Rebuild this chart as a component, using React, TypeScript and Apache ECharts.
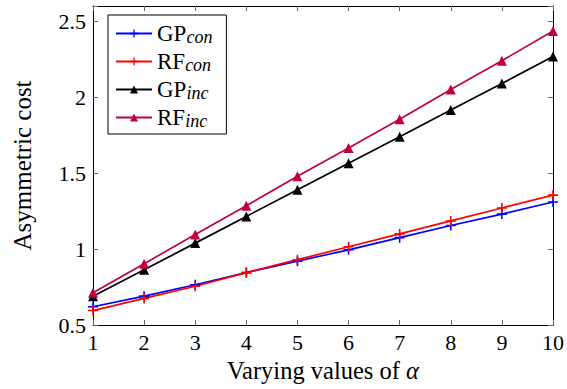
import React, { useEffect, useRef } from "react";
import * as echarts from "echarts";

const alphas = [1, 2, 3, 4, 5, 6, 7, 8, 9, 10];
const gpCon = [0.62, 0.69, 0.765, 0.845, 0.92, 0.995, 1.075, 1.155, 1.23, 1.31];
const rfCon = [0.595, 0.675, 0.755, 0.845, 0.93, 1.015, 1.1, 1.185, 1.27, 1.355];
const gpInc = [0.69, 0.863, 1.039, 1.215, 1.39, 1.565, 1.74, 1.915, 2.09, 2.267];
const rfInc = [0.713, 0.903, 1.096, 1.285, 1.479, 1.665, 1.855, 2.05, 2.24, 2.436];
const yTicks = [0.5, 1, 1.5, 2, 2.5];

const FONT = "Liberation Serif";
const PLUS = "path://M4.2,0H5.8V4.2H10V5.8H5.8V10H4.2V5.8H0V4.2H4.2Z";

export default function App() {
  const ref = useRef<HTMLDivElement>(null);
  useEffect(() => {
    if (!ref.current) return;
    const chart = echarts.init(ref.current, undefined, { renderer: "svg" });
    const mk = (name: string, vals: number[], color: string, symbol: string, size: number) => ({
      name,
      type: "line",
      data: alphas.map((a, i) => [a, vals[i]]),
      symbol,
      symbolSize: size,
      showAllSymbol: true,
      lineStyle: { color, width: 1.7 },
      itemStyle: { color, borderWidth: 0 },
    });
    const tickStyle = { inside: true, length: 5, lineStyle: { color: "#666", width: 1 } };
    chart.setOption({
      animation: false,
      backgroundColor: "#fff",
      textStyle: { fontFamily: FONT },
      grid: { left: 93, right: 14, top: 6, bottom: 64, containLabel: false },
      legend: {
        orient: "vertical",
        left: 108,
        top: 15,
        backgroundColor: "#fff",
        borderColor: "#000",
        borderWidth: 1,
        borderRadius: 0,
        padding: [7, 14, 4, 7],
        itemGap: 4,
        itemWidth: 36,
        itemHeight: 10,
        data: ["GP", "RF", "GPi", "RFi"],
        formatter: (n: string) => {
          if (n === "GP") return "GP{s|con}";
          if (n === "RF") return "RF{s|con}";
          if (n === "GPi") return "GP{s|inc}";
          return "RF{s|inc}";
        },
        textStyle: {
          fontFamily: FONT,
          fontSize: 23,
          color: "#000",
          rich: {
            s: { fontFamily: FONT, fontSize: 18, fontStyle: "italic", color: "#000", padding: [7, 0, 0, 0] },
          },
        },
      },
      xAxis: [
        {
          type: "value",
          min: 1,
          max: 10,
          interval: 1,
          name: "Varying values of {i|α}",
          nameLocation: "middle",
          nameGap: 33,
          nameTextStyle: {
            fontFamily: FONT,
            fontSize: 24.5,
            color: "#000",
            rich: { i: { fontFamily: FONT, fontSize: 24.5, fontStyle: "italic", color: "#000" } },
          },
          axisLine: { lineStyle: { color: "#000", width: 1 } },
          axisTick: tickStyle,
          axisLabel: { fontFamily: FONT, fontSize: 22, color: "#000", margin: 6 },
          splitLine: { show: false },
        },
        {
          type: "value",
          position: "top",
          min: 1,
          max: 10,
          interval: 1,
          axisLine: { lineStyle: { color: "#000", width: 1 } },
          axisTick: tickStyle,
          axisLabel: { show: false },
          splitLine: { show: false },
        },
      ],
      yAxis: [
        {
          type: "value",
          min: 0.5,
          max: 2.6,
          interval: 0.5,
          name: "Asymmetric cost",
          nameLocation: "middle",
          nameGap: 58,
          nameTextStyle: { fontFamily: FONT, fontSize: 25, color: "#000" },
          axisLine: { show: true, lineStyle: { color: "#000", width: 1 } },
          axisTick: tickStyle,
          axisLabel: {
            fontFamily: FONT,
            fontSize: 22,
            color: "#000",
            margin: 7,
            formatter: (v: number) => (yTicks.some((t) => Math.abs(t - v) < 1e-9) ? String(v) : ""),
          },
          splitLine: { show: false },
        },
        {
          type: "value",
          position: "right",
          min: 0.5,
          max: 2.6,
          interval: 0.5,
          axisLine: { show: true, lineStyle: { color: "#000", width: 1 } },
          axisTick: tickStyle,
          axisLabel: { show: false },
          splitLine: { show: false },
        },
      ],
      series: [
        mk("GP", gpCon, "#0000ff", PLUS, 10),
        mk("RF", rfCon, "#ff0000", PLUS, 10),
        mk("GPi", gpInc, "#000000", "triangle", 10),
        mk("RFi", rfInc, "#bf0040", "triangle", 10),
      ],
    });
    return () => chart.dispose();
  }, []);
  return (
    <div
      ref={ref}
      style={{ position: "fixed", left: 0, top: 0, width: 567, height: 389 }}
    />
  );
}
